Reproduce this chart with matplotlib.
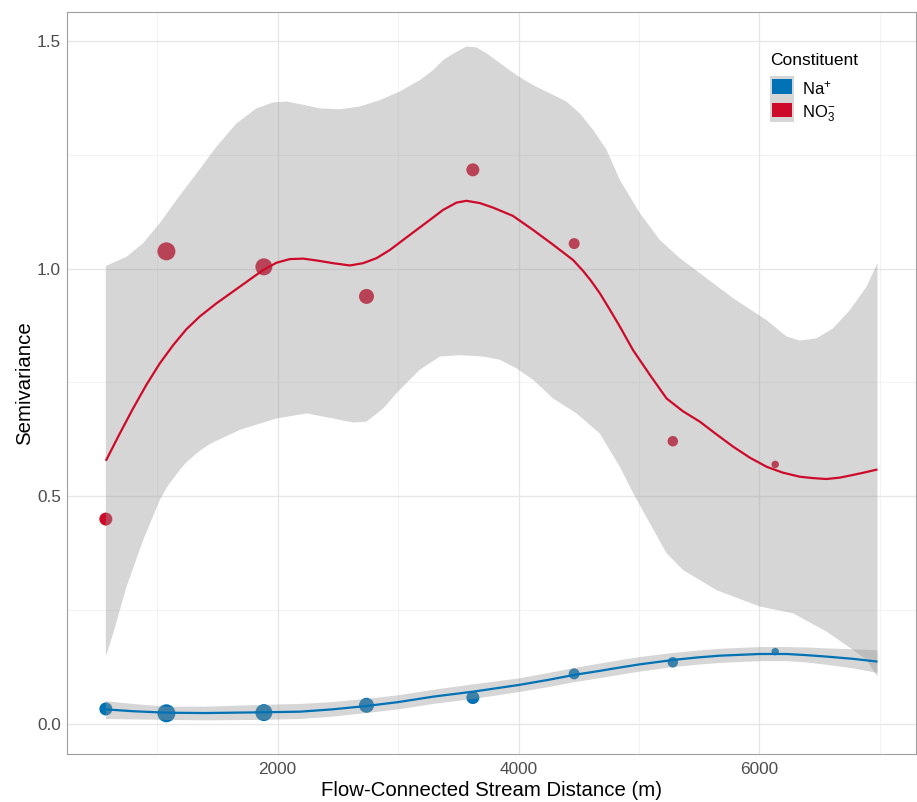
import matplotlib
matplotlib.use("Agg")
import matplotlib.pyplot as plt
from matplotlib.patches import Rectangle
import numpy as np

plt.rcParams['font.family'] = ['Liberation Sans', 'DejaVu Sans']
plt.rcParams['mathtext.fontset'] = 'custom'
plt.rcParams['mathtext.rm'] = 'Liberation Sans'
plt.rcParams['mathtext.it'] = 'Liberation Sans:italic'
plt.rcParams['mathtext.bf'] = 'Liberation Sans:bold'

# ---------------- data ----------------
distance = [574, 1077, 1886, 2738, 3621, 4462, 5281, 6131]
na_semivar = [0.033, 0.0235, 0.0250, 0.041, 0.058, 0.110, 0.1355, 0.159]
no3_semivar = [0.450, 1.038, 1.004, 0.939, 1.217, 1.055, 0.621, 0.570]
n_pairs = [169, 324, 289, 225, 169, 121, 110, 56]

# loess fit and confidence band, NO3-
no3_fit_x = [574, 690, 800, 911, 1022, 1133, 1243, 1354, 1493, 1631, 1769, 1880, 1991,
             2101, 2212, 2323, 2461, 2600, 2710, 2821, 2932, 3042, 3153, 3264, 3374,
             3485, 3568, 3679, 3789, 3953, 4121, 4285, 4453, 4536, 4600, 4675, 4758,
             4841, 4951, 5090, 5229, 5364, 5505, 5644, 5782, 5920, 6059, 6194, 6336,
             6443, 6557, 6667, 6778, 6883, 6980]
no3_fit = [0.578, 0.638, 0.693, 0.745, 0.792, 0.832, 0.867, 0.895, 0.924, 0.950, 0.976,
           0.997, 1.013, 1.021, 1.022, 1.018, 1.012, 1.007, 1.012, 1.023, 1.041, 1.063,
           1.085, 1.107, 1.129, 1.145, 1.149, 1.144, 1.134, 1.116, 1.085, 1.053, 1.019,
           0.995, 0.974, 0.946, 0.910, 0.873, 0.821, 0.767, 0.715, 0.687, 0.664, 0.636,
           0.609, 0.585, 0.565, 0.552, 0.543, 0.540, 0.538, 0.541, 0.547, 0.553, 0.559]
no3_up_x = [574, 746, 884, 1022, 1161, 1327, 1493, 1659, 1824, 1963, 2074, 2212, 2350,
            2516, 2682, 2848, 3014, 3181, 3291, 3374, 3457, 3568, 3650, 3734, 3983,
            4121, 4261, 4398, 4509, 4619, 4731, 4841, 5007, 5173, 5339, 5505, 5782,
            6059, 6225, 6336, 6474, 6612, 6751, 6889, 6980]
no3_upper = [1.006, 1.026, 1.056, 1.100, 1.151, 1.209, 1.268, 1.319, 1.352, 1.365, 1.367,
             1.360, 1.352, 1.350, 1.356, 1.370, 1.389, 1.414, 1.436, 1.458, 1.472, 1.488,
             1.486, 1.473, 1.425, 1.403, 1.385, 1.367, 1.341, 1.305, 1.261, 1.195, 1.122,
             1.063, 1.023, 0.990, 0.935, 0.887, 0.851, 0.842, 0.847, 0.869, 0.909, 0.960,
             1.012]
no3_lo_x = [574, 635, 746, 884, 1022, 1091, 1188, 1243, 1354, 1437, 1686, 1991, 2240,
            2461, 2627, 2738, 2876, 3014, 3181, 3347, 3513, 3706, 3845, 3983, 4121,
            4287, 4482, 4675, 4841, 4952, 5090, 5229, 5367, 5644, 6003, 6280, 6557,
            6778, 6889, 6980]
no3_lower = [0.148, 0.199, 0.302, 0.404, 0.492, 0.524, 0.558, 0.575, 0.600, 0.615, 0.646,
             0.671, 0.682, 0.671, 0.662, 0.664, 0.693, 0.734, 0.778, 0.807, 0.810, 0.807,
             0.800, 0.781, 0.756, 0.715, 0.682, 0.638, 0.565, 0.507, 0.441, 0.375, 0.338,
             0.294, 0.258, 0.243, 0.203, 0.1625, 0.141, 0.104]

# loess fit and confidence band, Na+
na_fit_x = [574, 800, 1077, 1400, 1880, 2184, 2450, 2738, 3000, 3291, 3623, 4003, 4250,
            4467, 4660, 4841, 5007, 5284, 5480, 5671, 6003, 6225, 6400, 6557, 6780, 6980]
na_fit = [0.032, 0.028, 0.0248, 0.024, 0.0257, 0.027, 0.032, 0.0395, 0.048, 0.060, 0.071,
          0.0857, 0.097, 0.108, 0.116, 0.124, 0.131, 0.1406, 0.146, 0.150, 0.1537, 0.1537,
          0.151, 0.148, 0.143, 0.137]
na_upper = [0.050, 0.044, 0.038, 0.038, 0.042, 0.044, 0.048, 0.055, 0.063, 0.075, 0.087,
            0.100, 0.112, 0.123, 0.132, 0.140, 0.147, 0.156, 0.161, 0.165, 0.169, 0.169,
            0.168, 0.166, 0.164, 0.162]
na_lower = [0.011, 0.010, 0.009, 0.008, 0.009, 0.011, 0.016, 0.024, 0.032, 0.044, 0.055,
            0.070, 0.081, 0.092, 0.100, 0.108, 0.115, 0.125, 0.130, 0.134, 0.138, 0.138,
            0.135, 0.130, 0.122, 0.112]

constituents = ["Na$^{+}$", "NO$_{3}^{-}$"]
x_ticks = [2000, 4000, 6000]
y_ticks = [0.0, 0.5, 1.0, 1.5]
y_tick_labels = ["0.0", "0.5", "1.0", "1.5"]

# ---------------- style ----------------
BLUE = "#0072B5"
RED = "#CE0A2A"
W, H = 917, 802

fig = plt.figure(figsize=(W / 100, H / 100), dpi=100)
L, R, T, B = 67.3, 916.0, 12.3, 754.3
ax = fig.add_axes([L / W, 1 - B / H, (R - L) / W, (B - T) / H])

ax.set_xlim(254, 7300)
ax.set_ylim(-0.0666, 1.563)

# grid
for v in [1000, 3000, 5000, 7000]:
    ax.axvline(v, color="#F2F2F2", lw=0.7, zorder=0)
for v in [0.25, 0.75, 1.25]:
    ax.axhline(v, color="#F2F2F2", lw=0.7, zorder=0)
for v in x_ticks:
    ax.axvline(v, color="#E6E6E6", lw=0.9, zorder=0.5)
for v in y_ticks:
    ax.axhline(v, color="#E6E6E6", lw=0.9, zorder=0.5)

sizes_max = (18 * 0.72) ** 2
sizes = [n / max(n_pairs) * sizes_max for n in n_pairs]

ax.scatter(distance, na_semivar, s=sizes, color=BLUE, edgecolors="none", zorder=2)
ax.scatter(distance, no3_semivar, s=sizes, color=RED, edgecolors="none", zorder=2)

# confidence bands (drawn above the points, like ggplot)
ax.fill(np.r_[na_fit_x, na_fit_x[::-1]], np.r_[na_upper, na_lower[::-1]],
        color="#999999", alpha=0.4, lw=0, zorder=3)
ax.fill(np.r_[no3_up_x, no3_lo_x[::-1]], np.r_[no3_upper, no3_lower[::-1]],
        color="#999999", alpha=0.4, lw=0, zorder=3)

ax.plot(na_fit_x, na_fit, color=BLUE, lw=1.6, zorder=4, solid_capstyle="butt",
        solid_joinstyle="round")
ax.plot(no3_fit_x, no3_fit, color=RED, lw=1.6, zorder=4, solid_capstyle="butt",
        solid_joinstyle="round")

ax.set_xticks(x_ticks)
ax.set_xticklabels([str(t) for t in x_ticks])
ax.set_yticks(y_ticks)
ax.set_yticklabels(y_tick_labels)
ax.tick_params(length=0, labelsize=12.4, labelcolor="#4D4D4D")
ax.tick_params(axis="x", pad=5.5)
ax.tick_params(axis="y", pad=4.5)
for s in ax.spines.values():
    s.set_color("#A0A0A0")
    s.set_linewidth(0.8)

ax.set_xlabel("Flow-Connected Stream Distance (m)", fontsize=14.7, color="black", labelpad=3)
ax.set_ylabel("Semivariance", fontsize=14.7, color="black", labelpad=2)

# legend (ggplot-like)
def fx(px):
    return px / W

def fy(py):
    return 1 - py / H

fig.text(fx(770.5), fy(60.5), "Constituent", fontsize=12.5, ha="left", va="center")
fig.patches.append(Rectangle((fx(770), fy(121.7)), 24 / W, 46 / H, transform=fig.transFigure,
                             facecolor="#D6D6D6", edgecolor="none", figure=fig))
for py_bottom, col in [(94.0, BLUE), (117.3, RED)]:
    fig.patches.append(Rectangle((fx(771.7), fy(py_bottom)), 20 / W, 14.7 / H,
                                 transform=fig.transFigure, facecolor=col,
                                 edgecolor="none", figure=fig))
fig.text(fx(801.7), fy(94.0), constituents[0], fontsize=12, ha="left", va="baseline")
fig.text(fx(801.7), fy(117.0), constituents[1], fontsize=12, ha="left", va="baseline")

fig.savefig("out.png", dpi=100)
